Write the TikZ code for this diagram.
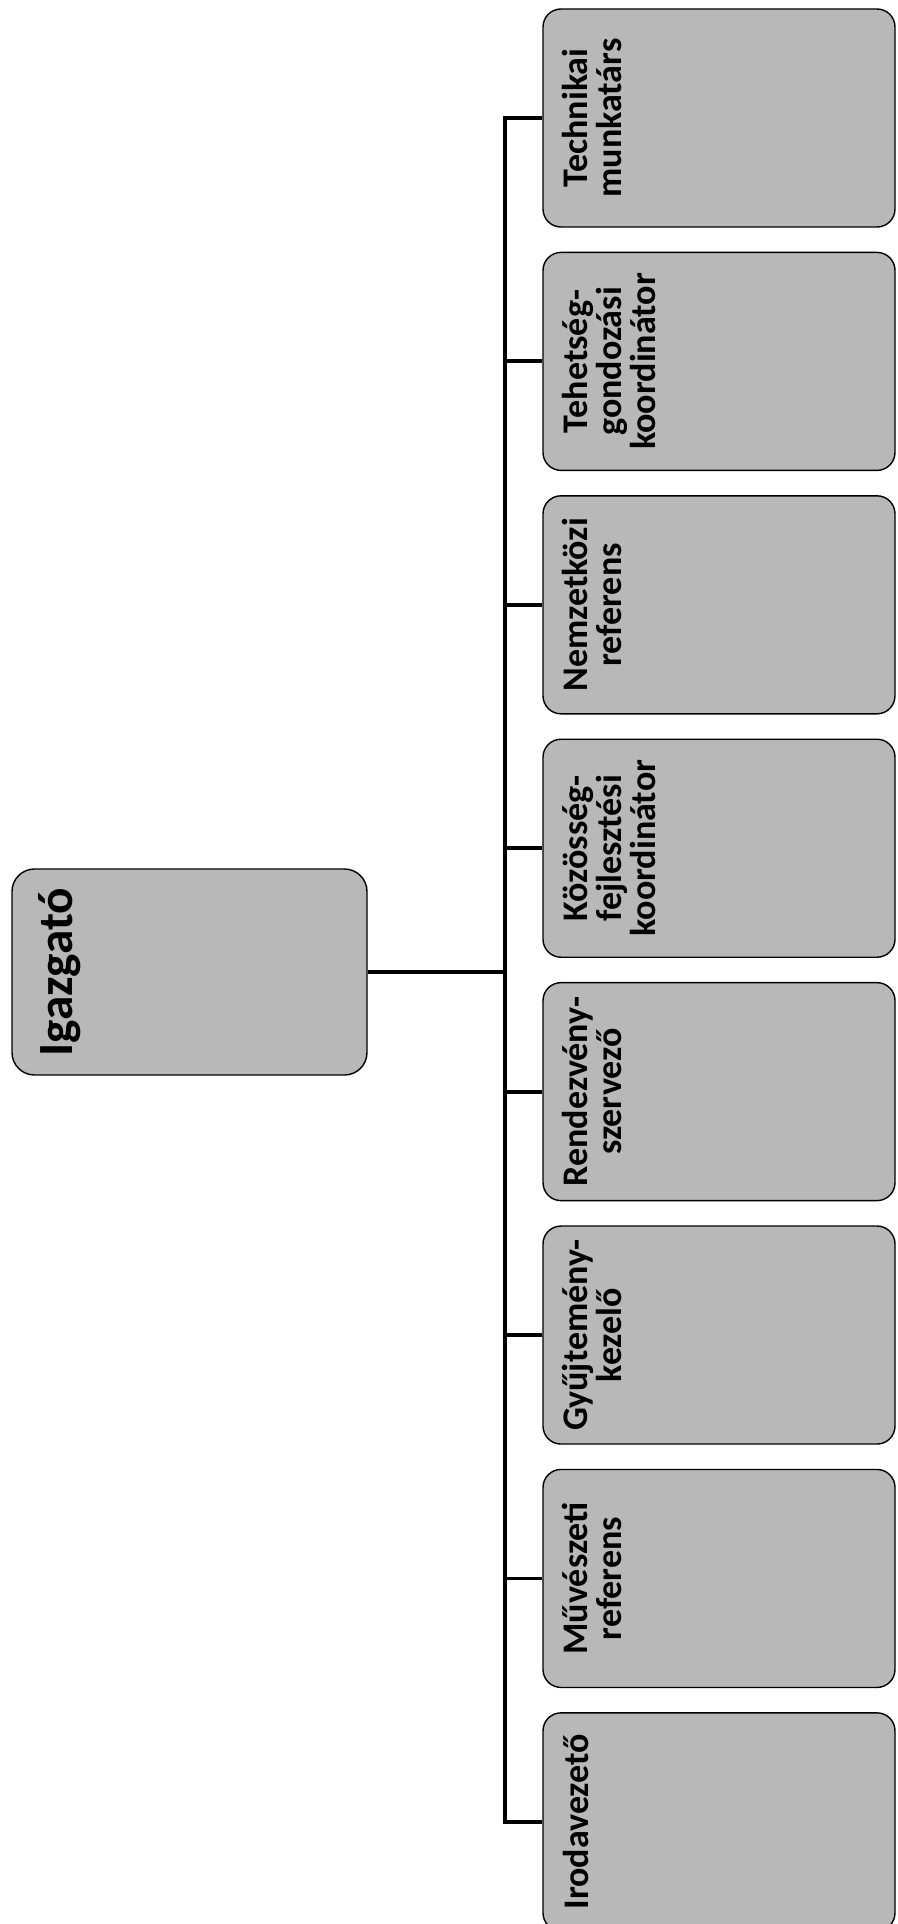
\documentclass[tikz,border=0pt]{standalone}
\usepackage{fontspec}
\setmainfont{Carlito}
\usepackage{tikz}
\usetikzlibrary{positioning, calc}
\definecolor{boxgray}{HTML}{B8B8B8}

\begin{document}
\begin{tikzpicture}[
      node distance=0.48cm,
      unit/.style={draw=black, fill=boxgray, rounded corners=#1, line width=0.8pt, minimum width=7.04cm, minimum height=4.36cm, inner sep=0pt},
      unit/.default=0.36cm,
      unitlab/.style={rotate=90, anchor=north, inner sep=0pt, align=center, font=\fontsize{20.5}{19.4}\selectfont\bfseries},
      link/.style={line width=2.2pt, black}
  ]
    \useasboundingbox (0,0) rectangle (17.94,-38.48);

    % director
    \node[unit=0.45cm, minimum width=7.1cm, minimum height=4.12cm] (boss) at (3.79,-19.44) {};
    \node[unitlab, font=\fontsize{28}{30}\selectfont\bfseries] (tboss) at ([xshift=1.2cm]boss.west) {\smash{Igazgató}};

    % staff, top to bottom
    \node[unit] (c1) at (14.38,-2.36) {};
    \node[unit, below=of c1] (c2) {};
    \node[unit, below=of c2] (c3) {};
    \node[unit, below=of c3] (c4) {};
    \node[unit, below=of c4] (c5) {};
    \node[unit, below=of c5] (c6) {};
    \node[unit, below=of c6] (c7) {};
    \node[unit, below=of c7] (c8) {};

    \node[unitlab] (t1) at ([xshift=0.9cm]c1.west) {\smash{Technikai}\\munkatárs};
    \node[unitlab] (t2) at ([xshift=0.9cm]c2.west) {\smash{Tehetség-}\\gondozási\\koordinátor};
    \node[unitlab] (t3) at ([xshift=0.9cm]c3.west) {\smash{Nemzetközi}\\referens};
    \node[unitlab] (t4) at ([xshift=0.9cm]c4.west) {\smash{Közösség-}\\fejlesztési\\koordinátor};
    \node[unitlab] (t5) at ([xshift=0.9cm]c5.west) {\smash{Rendezvény-}\\szervező};
    \node[unitlab] (t6) at ([xshift=0.9cm]c6.west) {\smash{Gyűjtemény-}\\kezelő};
    \node[unitlab] (t7) at ([xshift=0.9cm]c7.west) {\smash{Művészeti}\\referens};
    \node[unitlab] (t8) at ([xshift=0.9cm]c8.west) {\smash{Irodavezető}};

    % connectors
    \coordinate (spine) at (10.1,-19.44);
    \draw[link] (boss.east) -- (spine);
    \draw[link] (c1.west) -| (spine);
    \draw[link] (c8.west) -| (spine);
    \draw[link] (c2.west) -- (c2.west -| spine);
    \draw[link] (c3.west) -- (c3.west -| spine);
    \draw[link] (c4.west) -- (c4.west -| spine);
    \draw[link] (c5.west) -- (c5.west -| spine);
    \draw[link] (c6.west) -- (c6.west -| spine);
    \draw[link] (c7.west) -- (c7.west -| spine);
  \end{tikzpicture}
\end{document}
